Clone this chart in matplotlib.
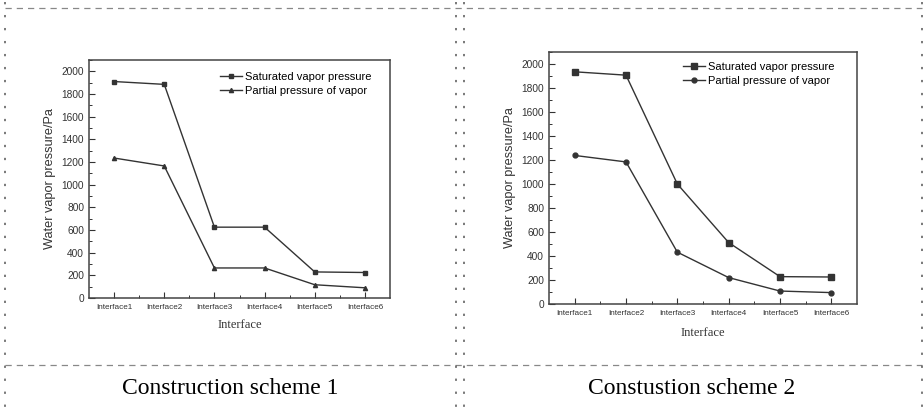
import matplotlib
matplotlib.use('Agg')
import matplotlib.pyplot as plt
from matplotlib.ticker import MultipleLocator, FixedLocator

W, H = 924, 408

interfaces = ['Interface1', 'Interface2', 'Interface3', 'Interface4', 'Interface5', 'Interface6']
sat_1  = [1910, 1885, 625, 625, 230, 225]
part_1 = [1235, 1165, 265, 265, 117, 90]
sat_2  = [1935, 1907, 1000, 512, 228, 225]
part_2 = [1238, 1184, 432, 220, 108, 95]
captions = ['Construction scheme 1', 'Constustion scheme 2']

plt.rcParams['font.family'] = ['Liberation Sans', 'DejaVu Sans']
ink = '#333333'

fig = plt.figure(figsize=(W / 100, H / 100), dpi=100, facecolor='white')

# frame of the table (pixel coords)
bg = fig.add_axes([0, 0, 1, 1], zorder=-1)
bg.set_xlim(0, W)
bg.set_ylim(H, 0)
bg.axis('off')
dash = dict(color='#888888', lw=0.9, linestyle=(0, (5, 4)))
dots = dict(color='#555555', lw=1.1, linestyle=(0, (1.5, 7)))
bg.plot([5, 922], [8, 8], **dash)
bg.plot([5, 922], [365, 365], **dash)
for x in [5, 456, 464, 922]:
    bg.plot([x, x], [2, 408], **dots)


def panel(rect, sat, part, m1, m2, ms1, ms2, xl_y, leg_anchor):
    ax = fig.add_axes(rect)
    x = range(1, len(interfaces) + 1)
    ax.plot(x, sat, color=ink, lw=1.0, marker=m1, ms=ms1, label='Saturated vapor pressure')
    ax.plot(x, part, color=ink, lw=1.0, marker=m2, ms=ms2, label='Partial pressure of vapor')
    ax.set_xlim(0.5, 6.5)
    ax.set_ylim(0, 2100)
    ax.set_xticks(list(x))
    ax.set_xticklabels(interfaces)
    ax.xaxis.set_minor_locator(FixedLocator([1.5, 2.5, 3.5, 4.5, 5.5]))
    ax.yaxis.set_major_locator(MultipleLocator(200))
    ax.yaxis.set_minor_locator(MultipleLocator(100))
    ax.tick_params(axis='both', which='major', direction='in', length=4, width=0.8,
                   colors=ink, labelsize=7.3, top=False, right=False)
    ax.tick_params(axis='x', which='major', labelsize=5.9, pad=4)
    ax.tick_params(axis='both', which='minor', direction='in', length=2, width=0.7,
                   colors=ink, top=False, right=False)
    for s in ax.spines.values():
        s.set_color('#444444')
        s.set_linewidth(1.1)
    ax.set_ylabel('Water vapor pressure/Pa', fontsize=9.2, color=ink, labelpad=4)
    ax.legend(loc='upper right', bbox_to_anchor=leg_anchor, frameon=False, fontsize=8,
              handlelength=2.0, borderaxespad=0.5, borderpad=0.6, labelspacing=0.3,
              handletextpad=0.3)
    cx = (rect[0] + rect[2] / 2) * W
    bg.text(cx, xl_y, 'Interface', family='Liberation Serif', fontsize=9,
            color=ink, ha='center', va='center')
    return ax


panel([89 / W, 1 - 298 / H, 301 / W, 238 / H], sat_1, part_1, 's', '^', 3, 3, 325,
      (0.98, 1.0))
panel([549 / W, 1 - 304 / H, 308 / W, 252 / H], sat_2, part_2, 's', 'o', 4, 3.5, 333,
      (0.967, 1.008))

bg.text(230, 388, captions[0], family='Liberation Serif', fontsize=17,
        color='black', ha='center', va='center')
bg.text(692, 388, captions[1], family='Liberation Serif', fontsize=17,
        color='black', ha='center', va='center')

fig.savefig('out.png', dpi=100, facecolor='white')
